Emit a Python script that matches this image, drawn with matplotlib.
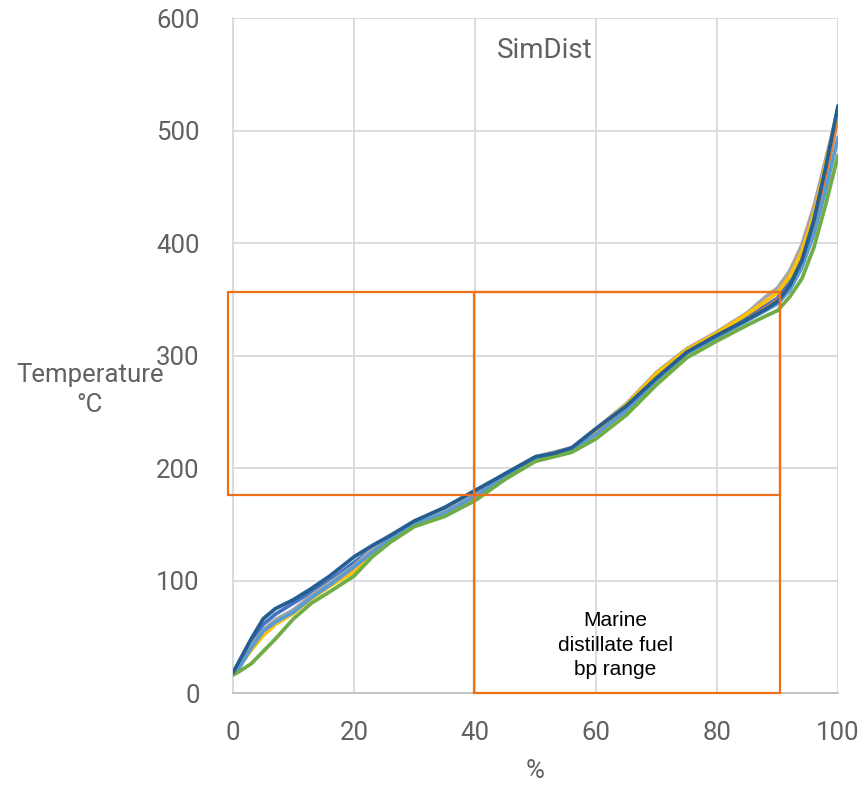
import matplotlib.pyplot as plt
from matplotlib.patches import Rectangle

# % distilled
pct = [0, 1, 3, 5, 7, 10, 13, 16, 20, 23, 26, 30, 35, 40, 45, 50, 53, 56,
       60, 65, 70, 75, 80, 85, 88, 90, 92, 94, 96, 98, 100]

# boiling temperature (deg C) for each sample
blue = [18, 25, 45, 61, 70, 80, 90, 100, 116, 128, 138, 151, 162, 177, 194, 209, 213, 217,
        234, 254, 280, 304, 319, 334, 344, 351, 366, 388, 422, 468, 520]
orange = [18, 23, 40, 53, 62, 72, 85, 96, 110, 125, 137, 150, 160, 174, 192, 208, 212, 216,
          231, 252, 279, 302, 317, 332, 342, 349, 362, 384, 416, 460, 512]
gray = [18, 24, 42, 56, 65, 74, 87, 98, 113, 128, 140, 152, 163, 177, 195, 210, 214, 218,
        235, 257, 285, 306, 321, 338, 352, 360, 375, 398, 432, 475, 518]
yellow = [18, 23, 38, 51, 61, 71, 84, 95, 108, 124, 137, 149, 158, 173, 192, 209, 213, 217,
          234, 256, 284, 305, 320, 337, 348, 356, 370, 392, 425, 470, 520]
lightblue = [17, 22, 40, 55, 63, 72, 85, 96, 112, 125, 137, 150, 160, 175, 193, 208, 212, 216,
             230, 251, 278, 302, 316, 331, 340, 346, 358, 378, 408, 448, 494]
green = [16, 19, 26, 37, 48, 66, 80, 90, 104, 121, 134, 148, 157, 171, 190, 206, 210, 214,
         226, 247, 274, 298, 313, 327, 335, 340, 352, 368, 396, 435, 478]
darkblue = [18, 28, 48, 66, 75, 83, 93, 104, 121, 131, 140, 153, 165, 180, 195, 210, 213, 218,
            235, 255, 280, 303, 318, 332, 341, 348, 362, 384, 420, 468, 522]

series = [(blue, '#4472C4'), (orange, '#ED7D31'), (gray, '#A5A5A5'),
          (yellow, '#FFC000'), (lightblue, '#5B9BD5'), (green, '#70AD47'),
          (darkblue, '#255E91')]

# marine distillate fuel boiling range
band_x = [-0.8, 90.4]
band_t = [176, 356.5]
box_x = [39.8, 90.4]
box_t = [0, 356.5]

txt = '#616161'
fnt = ['Roboto', 'DejaVu Sans']

fig = plt.figure(figsize=(8.67, 7.87), dpi=100)
ax = fig.add_axes([0.2687, 0.1194, 0.6979, 0.8577])

for vals, c in series:
    ax.plot(pct, vals, color=c, lw=2.7, solid_capstyle='round',
            solid_joinstyle='round', zorder=3)

ax.add_patch(Rectangle((band_x[0], band_t[0]), band_x[1] - band_x[0], band_t[1] - band_t[0],
                       fill=False, ec='#F07019', lw=1.6, zorder=4, clip_on=False))
ax.add_patch(Rectangle((box_x[0], box_t[0]), box_x[1] - box_x[0], box_t[1] - box_t[0],
                       fill=False, ec='#F07019', lw=1.6, zorder=4, clip_on=False))

ax.text(63.2, 42.5, 'Marine\ndistillate fuel\nbp range', ha='center', va='center',
        fontsize=15, family=['Liberation Sans', 'DejaVu Sans'], color='black',
        linespacing=1.38, zorder=5)

ax.text(51.5, 571, 'SimDist', ha='center', va='center', fontsize=20,
        family=fnt, color=txt)

ax.set_xlim(0, 100)
ax.set_ylim(0, 600)
ax.set_xticks(range(0, 101, 20))
ax.set_yticks(range(0, 601, 100))
ax.grid(True, color='#D9D9D9', lw=1.3)
ax.set_axisbelow(True)
for s in ['top', 'right']:
    ax.spines[s].set_visible(False)
ax.spines['left'].set_color('#D9D9D9')
ax.spines['bottom'].set_color('#BFBFBF')
ax.spines['left'].set_linewidth(1.3)
ax.spines['bottom'].set_linewidth(1.3)
ax.tick_params(length=0, labelsize=18.5, labelcolor=txt)
for lab in ax.get_xticklabels() + ax.get_yticklabels():
    lab.set_family(fnt)
ax.tick_params(axis='x', pad=20)
ax.tick_params(axis='y', pad=24)

ax.set_xlabel('%', fontsize=18.5, color=txt, family=fnt, labelpad=10)
fig.text(90 / 867, 1 - 390 / 787, 'Temperature\n°C', ha='center', va='center',
         fontsize=18.5, color=txt, family=fnt, linespacing=1.3)

fig.savefig('out.png', dpi=100)
